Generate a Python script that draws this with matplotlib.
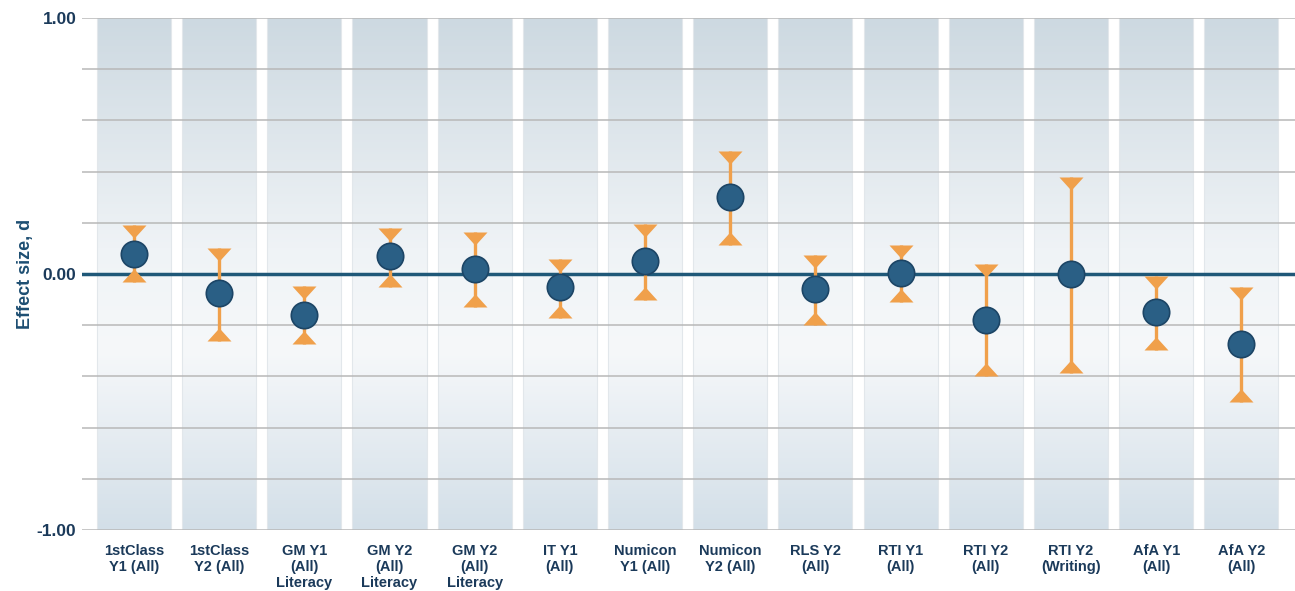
import numpy as np
import matplotlib.pyplot as plt
from matplotlib.colors import LinearSegmentedColormap
from matplotlib.path import Path

plt.rcParams['font.family'] = ['Liberation Sans', 'DejaVu Sans']

labels = ["1stClass\nY1 (All)", "1stClass\nY2 (All)", "GM Y1\n(All)\nLiteracy",
          "GM Y2\n(All)\nLiteracy", "GM Y2\n(All)\nLiteracy", "IT Y1\n(All)",
          "Numicon\nY1 (All)", "Numicon\nY2 (All)", "RLS Y2\n(All)", "RTI Y1\n(All)",
          "RTI Y2\n(All)", "RTI Y2\n(Writing)", "AfA Y1\n(All)", "AfA Y2\n(All)"]
effect = [0.08, -0.075, -0.16, 0.07, 0.02, -0.05, 0.05, 0.30, -0.06, 0.005,
          -0.18, 0.0, -0.15, -0.275]
upper = [0.19, 0.10, -0.045, 0.18, 0.165, 0.06, 0.195, 0.48, 0.075, 0.115,
         0.04, 0.38, -0.007, -0.05]
lower = [-0.03, -0.26, -0.275, -0.05, -0.13, -0.17, -0.10, 0.115, -0.20, -0.11,
         -0.40, -0.385, -0.295, -0.50]

navy = '#1b3a5a'
orange = '#f0a04b'
dot = '#2a5f85'

fig = plt.figure(figsize=(12.95, 5.91), dpi=100)
ax = fig.add_axes([82/1295, 61/591, 1213/1295, 512/591])

x = np.arange(len(labels))

# background bands with vertical gradient
band_cmap = LinearSegmentedColormap.from_list('band', [
    (0.0, '#d3dfe8'), (0.35, '#f6f8fa'), (0.55, '#eff3f6'), (1.0, '#cdd9e1')])
grad = np.linspace(0, 1, 256).reshape(-1, 1)
for xi in x:
    ax.imshow(grad, extent=(xi - 0.435, xi + 0.435, -1, 1), origin='lower',
              cmap=band_cmap, aspect='auto', zorder=0)
    ax.plot([xi - 0.435, xi - 0.435], [-1, 1], color='#e2e7eb', lw=0.8, zorder=0.5)
    ax.plot([xi + 0.435, xi + 0.435], [-1, 1], color='#e2e7eb', lw=0.8, zorder=0.5)

for yv in np.arange(-1, 1.01, 0.2):
    if abs(yv) > 1e-9:
        ax.axhline(yv, color='#b8b8b8', lw=1.1, zorder=1)
ax.axhline(0, color='#1f5878', lw=2.5, zorder=2)

# error bars
ax.vlines(x, lower, upper, color=orange, lw=2.4, zorder=3)
cap_up = Path([(-1, 0), (1, 0), (0, -1.1), (-1, 0)])
cap_dn = Path([(-1, 0), (1, 0), (0, 1.1), (-1, 0)])
ax.plot(x, upper, linestyle='', marker=cap_up, markersize=19, color=orange,
        markeredgewidth=0, zorder=3)
ax.plot(x, lower, linestyle='', marker=cap_dn, markersize=19, color=orange,
        markeredgewidth=0, zorder=3)
ax.plot(x, effect, linestyle='', marker='o', markersize=19, color=dot,
        markeredgecolor='#1c4566', markeredgewidth=1.2, zorder=4)

ax.set_xlim(-0.61, 13.63)
ax.set_ylim(-1, 1)
ax.set_yticks([-1, 0, 1])
ax.set_yticklabels(['-1.00', '0.00', '1.00'], fontsize=12.5, fontweight='bold', color=navy)
ax.set_xticks(x)
ax.set_xticklabels(labels, fontsize=10.5, fontweight='bold', color=navy, linespacing=1.2)
ax.tick_params(axis='x', length=0, pad=10)
ax.tick_params(axis='y', length=0, pad=4)
for s in ax.spines.values():
    s.set_visible(False)
ax.set_ylabel('Effect size, d', fontsize=13, fontweight='bold', color='#1d4e72', labelpad=2)

plt.savefig('out.png', dpi=100)
